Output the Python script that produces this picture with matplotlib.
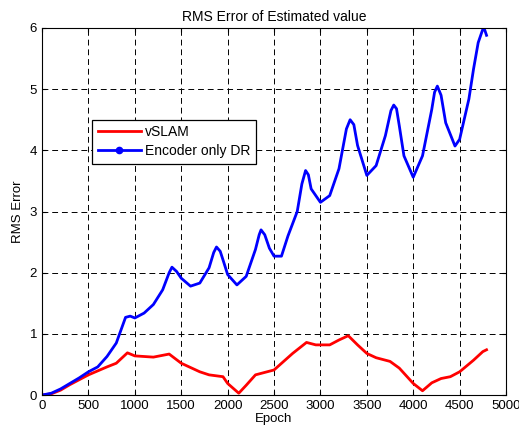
import numpy as np
import matplotlib
matplotlib.use("Agg")
import matplotlib.pyplot as plt
from matplotlib.lines import Line2D

# Values
enc_epoch = [0, 100, 200, 300, 400, 500, 600, 700, 800, 900, 950, 1000, 1100, 1200,
             1300, 1370, 1400, 1450, 1500, 1600, 1700, 1800, 1850, 1880, 1920, 1950, 2000,
             2100, 2200, 2300, 2340, 2360, 2400, 2450, 2500, 2580, 2650, 2750, 2800, 2840,
             2870, 2900, 3000, 3100, 3200, 3280, 3320, 3360, 3400, 3500, 3600, 3700, 3760,
             3790, 3820, 3850, 3900, 4000, 4100, 4200, 4230, 4260, 4300, 4350, 4450, 4500,
             4600, 4650, 4700, 4750, 4770, 4790]
enc_rms = [0.0, 0.03, 0.1, 0.19, 0.28, 0.38, 0.46, 0.63, 0.85, 1.27, 1.29, 1.26, 1.34, 1.48,
           1.72, 2.0, 2.09, 2.02, 1.91, 1.78, 1.83, 2.08, 2.33, 2.42, 2.35, 2.21, 1.97,
           1.80, 1.94, 2.38, 2.62, 2.70, 2.62, 2.40, 2.27, 2.27, 2.6, 3.0, 3.45, 3.67,
           3.6, 3.37, 3.15, 3.26, 3.70, 4.35, 4.5, 4.42, 4.08, 3.59, 3.75, 4.24, 4.65,
           4.74, 4.68, 4.4, 3.91, 3.56, 3.91, 4.67, 4.95, 5.05, 4.9, 4.45, 4.07, 4.18,
           4.84, 5.33, 5.76, 5.98, 5.97, 5.88]

vslam_epoch = [0, 100, 200, 300, 500, 700, 800, 920, 1000, 1200, 1370, 1500, 1700, 1800,
               1950, 2000, 2120, 2200, 2300, 2500, 2700, 2850, 2950, 3100, 3200, 3300,
               3400, 3500, 3600, 3750, 3850, 4000, 4100, 4200, 4300, 4400, 4500, 4650,
               4750, 4790]
vslam_rms = [0.0, 0.02, 0.08, 0.17, 0.33, 0.46, 0.52, 0.69, 0.64, 0.62, 0.67, 0.52, 0.38, 0.33,
             0.30, 0.19, 0.03, 0.16, 0.33, 0.41, 0.68, 0.86, 0.82, 0.82, 0.90, 0.97,
             0.82, 0.68, 0.61, 0.55, 0.44, 0.19, 0.07, 0.20, 0.27, 0.30, 0.38, 0.57,
             0.71, 0.74]

plt.rcParams['font.family'] = ['Liberation Sans', 'DejaVu Sans']

fig = plt.figure(figsize=(5.19, 4.37), dpi=100)
ax = fig.add_axes([0.081, 0.096, 0.894, 0.840])

ax.plot(vslam_epoch, vslam_rms, color='red', lw=2)
ax.plot(enc_epoch, enc_rms, color='blue', lw=2)

ax.set_xlim(0, 5000)
ax.set_ylim(0, 6)
ax.set_xticks(np.arange(0, 5001, 500))
ax.set_yticks(np.arange(0, 7, 1))
ax.grid(True, color='black', linestyle=(0, (6, 4)), lw=0.7)
ax.tick_params(direction='in', labelsize=9.5, length=3, top=True, right=True)
for s in ax.spines.values():
    s.set_linewidth(0.8)

ax.set_title('RMS Error of Estimated value', fontsize=10, pad=5)
ax.set_xlabel('Epoch', fontsize=9.5, labelpad=1)
ax.set_ylabel('RMS Error', fontsize=9.5, labelpad=4)

handles = [Line2D([], [], color='red', lw=2),
           Line2D([], [], color='blue', lw=2, marker='o', markersize=4.5)]
leg = ax.legend(handles, ['vSLAM', 'Encoder only DR'], loc='upper left',
                bbox_to_anchor=(0.108, 0.75), fontsize=10, fancybox=False,
                framealpha=1, edgecolor='black', borderpad=0.4, handlelength=3.1,
                handletextpad=0.3, labelspacing=0.35, borderaxespad=0)
leg.get_frame().set_linewidth(0.9)

fig.savefig('out.png', dpi=100)
